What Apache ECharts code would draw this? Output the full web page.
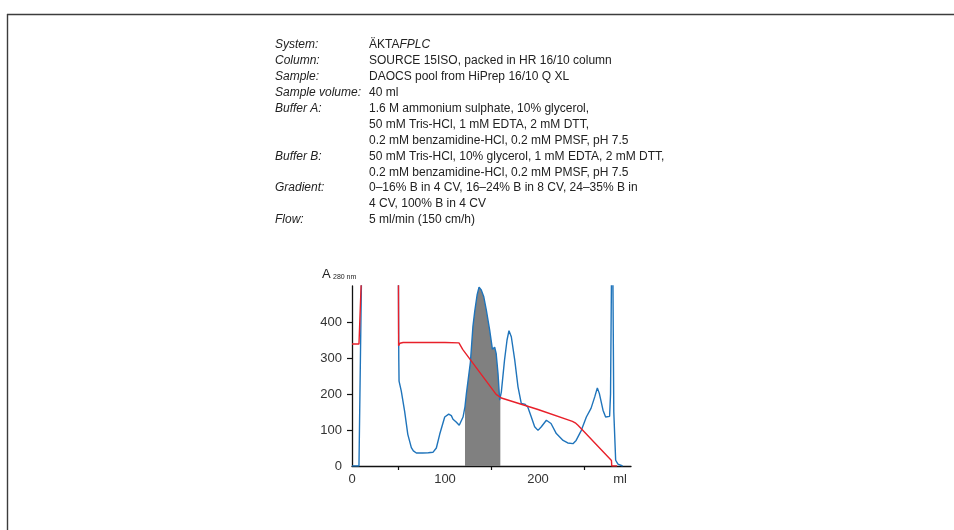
<!DOCTYPE html>
<html><head><meta charset="utf-8">
<script src="https://cdn.jsdelivr.net/npm/echarts@6/dist/echarts.min.js"></script>
<style>html,body{margin:0;padding:0;background:#fff}#c{width:954px;height:530px}</style>
</head><body><div id="c"></div>
<script>
// ---- text block ----
const infoLabels = ['System:', 'Column:', 'Sample:', 'Sample volume:', 'Buffer A:', '', '', 'Buffer B:', '', 'Gradient:', '', 'Flow:'];
const infoValues = [
  '{n|ÄKTA}{i|FPLC}',
  'SOURCE 15ISO, packed in HR 16/10 column',
  'DAOCS pool from HiPrep 16/10 Q XL',
  '40 ml',
  '1.6 M ammonium sulphate, 10% glycerol,',
  '50 mM Tris-HCl, 1 mM EDTA, 2 mM DTT,',
  '0.2 mM benzamidine-HCl, 0.2 mM PMSF, pH 7.5',
  '50 mM Tris-HCl, 10% glycerol, 1 mM EDTA, 2 mM DTT,',
  '0.2 mM benzamidine-HCl, 0.2 mM PMSF, pH 7.5',
  '0–16% B in 4 CV, 16–24% B in 8 CV, 24–35% B in',
  '4 CV, 100% B in 4 CV',
  '5 ml/min (150 cm/h)'
];

// ---- axes ----
const yTickLabels = [0, 100, 200, 300, 400];
const yTicks = [100, 200, 300, 400];
const xTickLabels = [0, 100, 200];
const xTicks = [50, 150, 250];
const xUnit = 'ml';
const yTitle = 'A';
const yTitleSub = '280 nm';

// ---- data (volume in ml; 1500 = off scale) ----
const a280Volume = [0, 7.5, 10.3, 11, 49.4, 49.9, 50.3, 50.6, 53, 56.6, 60, 63.8, 66, 69.2, 76, 82, 87, 90.7, 94.3, 99.7, 104, 106.8, 108.6, 112, 115.3, 119.4, 121.5, 123, 127.3, 130, 132, 134.5, 136.6, 139, 141.6, 144.4, 148, 151, 153.4, 155, 157, 158.8, 159.5, 160.6, 164, 166.7, 168.8, 171.3, 175, 178.5, 182, 185.7, 189, 192.8, 196.4, 200, 203.6, 209, 214, 219.7, 227, 232, 237.6, 241, 246.6, 252, 257, 261, 263.8, 266, 269.9, 272.7, 277, 278, 279, 279.4, 280.2, 280.6, 281.5, 283.5, 286, 291];
const a280Value  = [0, 0, 540, 1500, 1500, 520, 300, 236, 208, 152, 88, 51, 42, 36, 36, 37, 38, 50, 88, 136, 144, 140, 130, 122, 113, 136, 165, 201, 288, 387, 430, 475, 497, 489, 471, 434, 378, 324, 330, 313, 257, 183, 192, 206, 294, 350, 376, 359, 294, 220, 174, 172, 164, 136, 109, 99, 109, 127, 118, 90, 71, 64, 62, 71, 99, 136, 160, 192, 217, 201, 155, 136, 138, 200, 520, 1500, 1500, 500, 150, 16, 5, 0];
const gradVolume = [0, 7.5, 10.2, 10.8, 49.5, 49.9, 50.1, 51.5, 55, 80, 100, 115, 117, 119, 155, 157, 160.6, 200, 237, 240, 243, 279, 279.3, 285];
const gradValue  = [339, 339, 530, 1500, 1500, 600, 334, 341, 343, 343.5, 343, 342, 333, 324, 199, 197, 189, 157, 124, 120, 113, 15, 0, 0];
const fractionStart = 121.5;
const fractionEnd = 159.5;

const a280Data = a280Volume.map((v, i) => [v, a280Value[i]]);
const gradData = gradVolume.map((v, i) => [v, gradValue[i]]);
const fractionData = a280Data.filter(p => p[0] >= fractionStart && p[0] <= fractionEnd);

const FONT = '"Liberation Sans", Arial, Helvetica, sans-serif';
const TXT = '#222';
const TFS = 12;

const graphic = [
  { type: 'line', shape: { x1: 7, y1: 14.5, x2: 954, y2: 14.5 }, style: { stroke: '#3c3c3c', lineWidth: 1.4 } },
  { type: 'line', shape: { x1: 7.5, y1: 14, x2: 7.5, y2: 530 }, style: { stroke: '#3c3c3c', lineWidth: 1.4 } },
  { type: 'text', x: 322, y: 274, style: { text: yTitle, font: '13px ' + FONT, fill: TXT, textVerticalAlign: 'middle' } },
  { type: 'text', x: 333, y: 277, style: { text: yTitleSub, font: '7px ' + FONT, fill: TXT, textVerticalAlign: 'middle' } },
  { type: 'text', x: 620, y: 479, style: { text: xUnit, font: '13px ' + FONT, fill: '#333', textAlign: 'center', textVerticalAlign: 'middle' } }
];
infoLabels.forEach((t, i) => {
  const y = 45 + i * 15.9;
  if (t) graphic.push({ type: 'text', x: 275, y, style: { text: t, font: 'italic ' + TFS + 'px ' + FONT, fill: TXT, textVerticalAlign: 'middle' } });
  graphic.push({ type: 'text', x: 369, y, style: {
    text: infoValues[i], font: TFS + 'px ' + FONT, fill: TXT, textVerticalAlign: 'middle',
    rich: { n: { fontSize: TFS, fontFamily: FONT, color: TXT }, i: { fontSize: TFS, fontFamily: FONT, fontStyle: 'italic', color: TXT } }
  } });
});

const chart = echarts.init(document.getElementById('c'), null, { renderer: 'canvas' });
chart.setOption({
  animation: false,
  backgroundColor: '#fff',
  grid: { left: 352, top: 286, width: 279, height: 180, containLabel: false },
  xAxis: {
    type: 'value', min: 0, max: 300, interval: 50,
    axisLine: { show: true, lineStyle: { color: '#111', width: 1.3 } },
    axisTick: { show: true, customValues: xTicks, length: 4, lineStyle: { color: '#111', width: 1.2 } },
    axisLabel: { customValues: xTickLabels, margin: 7, fontSize: 13, fontFamily: FONT, color: '#333' },
    splitLine: { show: false }
  },
  yAxis: {
    type: 'value', min: 0, max: 500, interval: 100,
    axisLine: { show: true, lineStyle: { color: '#111', width: 1.3 } },
    axisTick: { show: true, customValues: yTicks, length: 5, lineStyle: { color: '#111', width: 1.2 } },
    axisLabel: { customValues: yTickLabels, margin: 10, fontSize: 13, fontFamily: FONT, color: '#333' },
    splitLine: { show: false }
  },
  graphic: graphic,
  series: [
    { type: 'line', name: 'fraction', data: fractionData, symbol: 'none', lineStyle: { width: 0 },
      areaStyle: { color: '#808080', opacity: 1 }, z: 1, silent: true },
    { type: 'line', name: 'A280', data: a280Data, symbol: 'none', lineStyle: { color: '#1f74bb', width: 1.4 }, z: 2 },
    { type: 'line', name: 'gradient', data: gradData, symbol: 'none', lineStyle: { color: '#e8202a', width: 1.4 }, z: 3 }
  ]
});
</script>
</body></html>
